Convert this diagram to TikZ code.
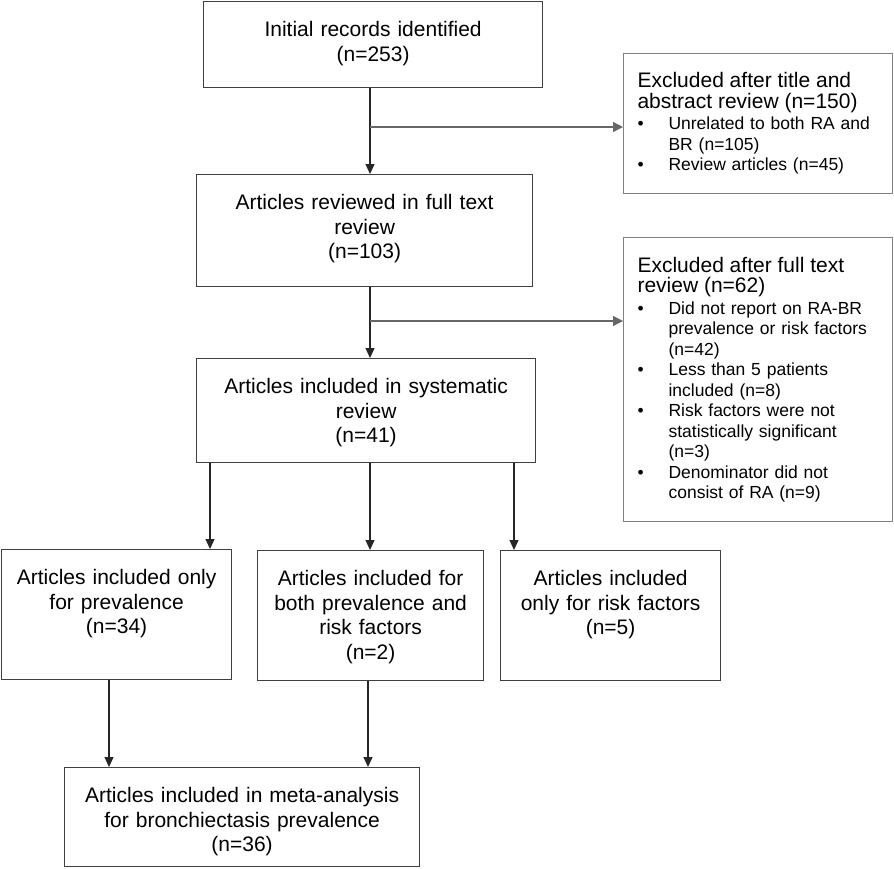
\documentclass[tikz,border=0pt]{standalone}
\usepackage{fontspec}
\setmainfont{Liberation Sans}
\usetikzlibrary{arrows.meta}

\newcommand{\bul}{\makebox[31pt][l]{\textbullet}}
\newcommand{\ind}{\hspace*{31pt}}

\begin{document}
\begin{tikzpicture}[x=1pt,y=-1pt,
    box/.style={draw=black!75,line width=1.2pt,align=center,inner xsep=0pt,inner ysep=0pt,
      anchor=north west,font=\fontsize{21}{24.5}\selectfont,text height=35pt},
    exbox/.style={draw=black!50,line width=1.1pt,align=left,inner xsep=14pt,inner ysep=0pt,
      anchor=north west,font=\fontsize{17.5}{20.5}\selectfont},
    flow/.style={-{Triangle[length=10pt,width=9pt]},line width=1.2pt,black!85},
    side/.style={-{Triangle[length=10pt,width=10pt]},line width=1.2pt,black!60}]
  \useasboundingbox (0,0) rectangle (894,868);

%% main column
  \node[box,text width=339pt,text depth=51pt] (init) at (203,1)
    {Initial records identified\\(n=253)};
  \node[box,text width=336pt,text depth=77pt] (rev) at (196,174)
    {Articles reviewed in full text\\review\\(n=103)};
  \node[box,text width=339pt,text depth=69pt] (sys) at (196,358)
    {Articles included in systematic\\review\\(n=41)};

%% excluded boxes
  \node[exbox,text width=241pt,minimum height=140pt] (excl1) at (623,53)
    {{\fontsize{21}{24.5}\selectfont Excluded after title and\\abstract review (n=150)}\\[1pt]
     \bul Unrelated to both RA and\\\ind BR (n=105)\\
     \bul Review articles (n=45)};
  \node[exbox,text width=241pt,minimum height=284pt] (excl2) at (623,237)
    {{\fontsize{21}{24.5}\selectfont Excluded after full text\\review (n=62)}\\[1pt]
     \bul Did not report on RA-BR\\\ind prevalence or risk factors\\\ind (n=42)\\
     \bul Less than 5 patients\\\ind included (n=8)\\
     \bul Risk factors were not\\\ind statistically significant\\\ind (n=3)\\
     \bul Denominator did not\\\ind consist of RA (n=9)};

%% split into three
  \node[box,text width=230pt,text depth=95pt] (prev) at (1,549)
    {Articles included only\\for prevalence\\(n=34)};
  \node[box,text width=226pt,text depth=95pt] (both) at (257,550)
    {Articles included for\\both prevalence and\\risk factors\\(n=2)};
  \node[box,text width=220pt,text depth=95pt] (risk) at (500,550)
    {Articles included\\only for risk factors\\(n=5)};
  \node[box,text width=355pt,text depth=64pt] (meta) at (64,767)
    {Articles included in meta-analysis\\for bronchiectasis prevalence\\(n=36)};

%% connections
  \coordinate (spine) at (370,0);
  \coordinate (br1) at (370,127);
  \coordinate (br2) at (370,321);
  \draw[flow] (init.south -| spine) -- (rev.north -| spine);
  \draw[flow] (rev.south -| spine) -- (sys.north -| spine);
  \draw[side] (br1) -- (br1 -| excl1.west);
  \draw[side] (br2) -- (br2 -| excl2.west);

  \foreach \x/\to in {210/prev, 370/both, 514/risk}
    \draw[flow] (sys.south -| \x,0) -- (\to.north -| \x,0);
  \foreach \x/\from in {109/prev, 368/both}
    \draw[flow] (\from.south -| \x,0) -- (meta.north -| \x,0);
\end{tikzpicture}
\end{document}
